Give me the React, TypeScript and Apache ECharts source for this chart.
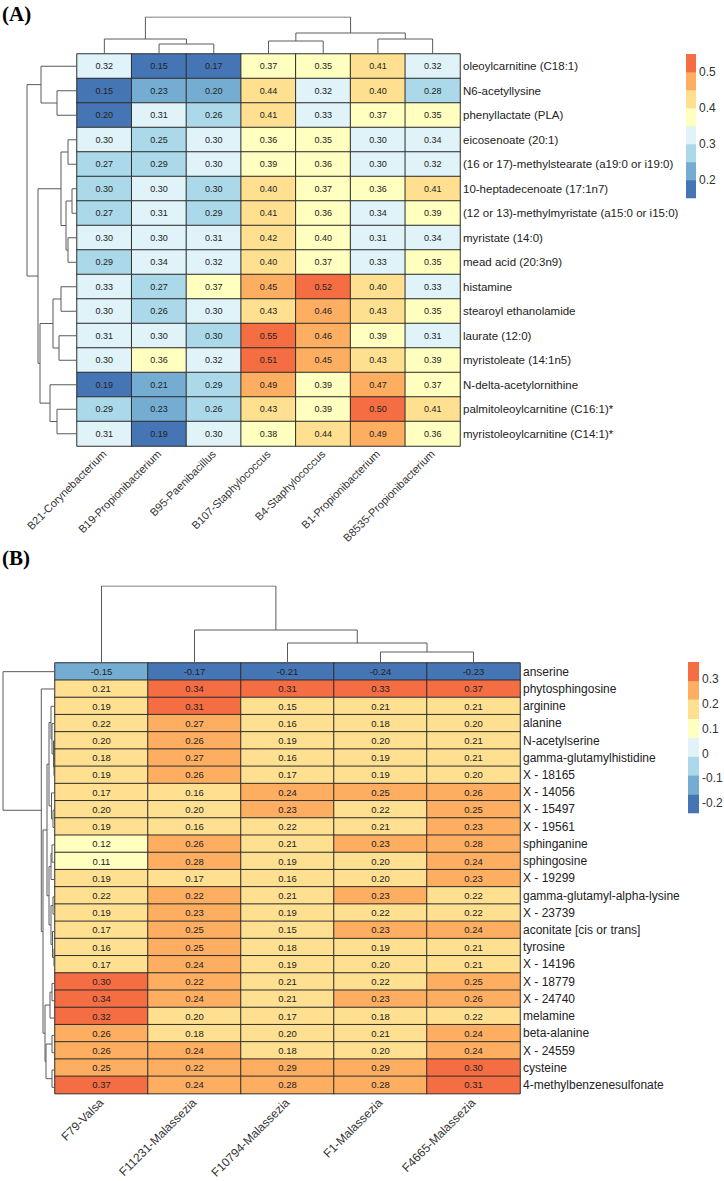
import React, { useEffect, useRef } from "react";
import * as echarts from "echarts";

// ---------- Panel A data ----------
const aCols = [
  "B21-Corynebacterium",
  "B19-Propionibacterium",
  "B95-Paenibacillus",
  "B107-Staphylococcus",
  "B4-Staphylococcus",
  "B1-Propionibacterium",
  "B8535-Propionibacterium",
];
const aRows = [
  "oleoylcarnitine (C18:1)",
  "N6-acetyllysine",
  "phenyllactate (PLA)",
  "eicosenoate (20:1)",
  "(16 or 17)-methylstearate (a19:0 or i19:0)",
  "10-heptadecenoate (17:1n7)",
  "(12 or 13)-methylmyristate (a15:0 or i15:0)",
  "myristate (14:0)",
  "mead acid (20:3n9)",
  "histamine",
  "stearoyl ethanolamide",
  "laurate (12:0)",
  "myristoleate (14:1n5)",
  "N-delta-acetylornithine",
  "palmitoleoylcarnitine (C16:1)*",
  "myristoleoylcarnitine (C14:1)*",
];
// values estimated (third decimal only where the cell colour tells on which side of a break it lies)
const aValues = [
  [0.32, 0.15, 0.17, 0.37, 0.352, 0.41, 0.32],
  [0.15, 0.23, 0.202, 0.44, 0.32, 0.402, 0.28],
  [0.198, 0.31, 0.26, 0.41, 0.33, 0.37, 0.352],
  [0.302, 0.252, 0.302, 0.36, 0.352, 0.302, 0.34],
  [0.27, 0.29, 0.302, 0.39, 0.36, 0.302, 0.32],
  [0.298, 0.302, 0.298, 0.402, 0.37, 0.36, 0.41],
  [0.27, 0.31, 0.29, 0.41, 0.36, 0.34, 0.39],
  [0.302, 0.302, 0.31, 0.42, 0.398, 0.31, 0.34],
  [0.29, 0.34, 0.32, 0.402, 0.37, 0.33, 0.352],
  [0.33, 0.27, 0.37, 0.452, 0.52, 0.402, 0.33],
  [0.302, 0.26, 0.302, 0.43, 0.46, 0.43, 0.352],
  [0.31, 0.302, 0.298, 0.55, 0.46, 0.39, 0.31],
  [0.302, 0.36, 0.32, 0.51, 0.452, 0.43, 0.39],
  [0.19, 0.21, 0.29, 0.49, 0.39, 0.47, 0.37],
  [0.29, 0.23, 0.26, 0.43, 0.39, 0.502, 0.41],
  [0.31, 0.19, 0.302, 0.38, 0.44, 0.49, 0.36],
];
const aBreaks = [0.15, 0.2, 0.25, 0.3, 0.35, 0.4, 0.45, 0.5, 0.55];
const aTicks = [0.2, 0.3, 0.4, 0.5];
// dendrograms: [childA, childB, height]; negative = leaf (-1 is first leaf), positive = earlier merge (1-based)
const aColMerges = [
  [-2, -3, 10],
  [-1, 1, 15],
  [-4, -5, 13],
  [-6, -7, 15],
  [3, 4, 21],
  [2, 5, 37],
];
const aRowMerges = [
  [-2, -3, 20],
  [-1, 1, 36],
  [-4, -5, 9],
  [-6, -7, 5],
  [-8, -9, 9],
  [4, 5, 11],
  [3, 6, 16],
  [-10, -11, 16],
  [-12, -13, 18],
  [8, 9, 24],
  [-15, -16, 20],
  [-14, 11, 27],
  [10, 12, 37],
  [7, 13, 39],
  [2, 14, 50],
];

// ---------- Panel B data ----------
const bCols = [
  "F79-Valsa",
  "F11231-Malassezia",
  "F10794-Malassezia",
  "F1-Malassezia",
  "F4665-Malassezia",
];
const bRows = [
  "anserine",
  "phytosphingosine",
  "arginine",
  "alanine",
  "N-acetylserine",
  "gamma-glutamylhistidine",
  "X - 18165",
  "X - 14056",
  "X - 15497",
  "X - 19561",
  "sphinganine",
  "sphingosine",
  "X - 19299",
  "gamma-glutamyl-alpha-lysine",
  "X - 23739",
  "aconitate [cis or trans]",
  "tyrosine",
  "X - 14196",
  "X - 18779",
  "X - 24740",
  "melamine",
  "beta-alanine",
  "X - 24559",
  "cysteine",
  "4-methylbenzenesulfonate",
];
const bValues = [
  [-0.15, -0.17, -0.21, -0.24, -0.23],
  [0.21, 0.34, 0.31, 0.33, 0.37],
  [0.19, 0.31, 0.15, 0.21, 0.21],
  [0.216, 0.27, 0.16, 0.18, 0.2],
  [0.2, 0.26, 0.19, 0.2, 0.21],
  [0.18, 0.27, 0.16, 0.19, 0.21],
  [0.19, 0.26, 0.17, 0.19, 0.2],
  [0.17, 0.16, 0.24, 0.25, 0.26],
  [0.2, 0.2, 0.23, 0.216, 0.25],
  [0.19, 0.16, 0.216, 0.21, 0.23],
  [0.12, 0.26, 0.21, 0.23, 0.28],
  [0.11, 0.28, 0.19, 0.2, 0.24],
  [0.19, 0.17, 0.16, 0.2, 0.23],
  [0.216, 0.223, 0.21, 0.23, 0.216],
  [0.19, 0.23, 0.19, 0.216, 0.216],
  [0.17, 0.25, 0.15, 0.23, 0.24],
  [0.16, 0.25, 0.18, 0.19, 0.21],
  [0.17, 0.24, 0.19, 0.2, 0.21],
  [0.3, 0.223, 0.21, 0.216, 0.25],
  [0.34, 0.24, 0.21, 0.23, 0.26],
  [0.32, 0.2, 0.17, 0.18, 0.216],
  [0.26, 0.18, 0.2, 0.21, 0.24],
  [0.26, 0.24, 0.18, 0.2, 0.24],
  [0.25, 0.223, 0.29, 0.29, 0.3],
  [0.37, 0.24, 0.28, 0.28, 0.31],
];
const bBreaks = [-0.24, -0.164, -0.087, -0.011, 0.065, 0.141, 0.219, 0.294, 0.37];
const bTicks = [-0.2, -0.1, 0, 0.1, 0.2, 0.3];
const bColMerges = [
  [-4, -5, 11],
  [-3, 1, 20],
  [-2, 2, 33],
  [-1, 3, 77],
];
const bRowMerges = [
  [-6, -7, 1],
  [-5, 1, 1.5],
  [-4, 2, 3],
  [-3, 3, 4],
  [-9, -10, 2],
  [-8, 5, 3.5],
  [4, 6, 6],
  [-11, -12, 3],
  [8, -13, 4],
  [-14, -15, 2],
  [-17, -18, 1],
  [-16, 11, 2.5],
  [10, 12, 4],
  [9, 13, 6],
  [7, 14, 8],
  [-19, -20, 3],
  [16, -21, 5],
  [-22, -23, 3],
  [-24, -25, 3],
  [18, 19, 9],
  [17, 20, 10],
  [15, 21, 12],
  [-2, 22, 13.7],
  [-1, 23, 52],
];

const palette = [
  "#4575B4",
  "#74ADD1",
  "#ABD9E9",
  "#E0F3F8",
  "#FFFFBF",
  "#FEE090",
  "#FDAE61",
  "#F46D43",
];

const FONT = "'Liberation Sans', Arial, sans-serif";
const LINE = "#5a5a5a";

function dendro(merges: number[][], orient: "col" | "row") {
  const pos: number[] = [];
  const ht: number[] = [];
  const get = (id: number) => (id < 0 ? [-id - 1, 0] : [pos[id - 1], ht[id - 1]]);
  return merges.map(([a, b, h], k) => {
    const [pa, ha] = get(a);
    const [pb, hb] = get(b);
    pos[k] = (pa + pb) / 2;
    ht[k] = h;
    const pts = [
      [pa, ha],
      [pa, h],
      [pb, h],
      [pb, hb],
    ];
    return { coords: orient === "col" ? pts : pts.map(([p, v]) => [v, p]) };
  });
}

function heatData(values: number[][]) {
  const out: number[][] = [];
  values.forEach((row, r) => row.forEach((v, c) => out.push([c, r, v])));
  return out;
}

function pieces(breaks: number[]) {
  return palette.map((color, i) =>
    i === palette.length - 1
      ? { gte: breaks[i], lte: breaks[i + 1] + 1, color }
      : { gte: breaks[i], lt: breaks[i + 1], color }
  );
}

function legend(breaks: number[], ticks: number[], x: number, top: number, w: number, h: number, labelX: number) {
  const els: any[] = [];
  const n = breaks.length - 1;
  const min = breaks[0];
  const max = breaks[n];
  const yOf = (v: number) => top + ((max - v) / (max - min)) * h;
  for (let i = 0; i < n; i++) {
    const y1 = yOf(breaks[i + 1]);
    const y2 = yOf(breaks[i]);
    els.push({
      type: "rect",
      shape: { x, y: y1, width: w, height: y2 - y1 + 0.3 },
      style: { fill: palette[i] },
      silent: true,
    });
  }
  ticks.forEach((t) => {
    els.push({
      type: "text",
      x: labelX,
      y: yOf(t),
      style: {
        text: String(t),
        fill: "#333",
        fontSize: 12,
        fontFamily: FONT,
        verticalAlign: "middle",
        align: "left",
      },
      silent: true,
    });
  });
  return els;
}

export default function App() {
  const ref = useRef<HTMLDivElement>(null);
  useEffect(() => {
    if (!ref.current) return;
    const chart = echarts.init(ref.current, null, { renderer: "svg" });
    const hidden = { show: false };
    const cellLabel = (size: number) => ({
      show: true,
      fontSize: size,
      fontFamily: FONT,
      color: "#222",
      formatter: (p: any) => p.value[2].toFixed(2),
    });
    const dendroLine = { color: LINE, width: 1, opacity: 1 };
    const option: any = {
      animation: false,
      backgroundColor: "#fff",
      grid: [
        { left: 77, top: 54, width: 383, height: 392 },
        { left: 77, top: 17, width: 383, height: 37 },
        { left: 27, top: 54, width: 50, height: 392 },
        { left: 55, top: 663, width: 465, height: 433 },
        { left: 55, top: 586, width: 465, height: 77 },
        { left: 3, top: 663, width: 52, height: 433 },
      ],
      xAxis: [
        {
          type: "category",
          gridIndex: 0,
          data: aCols,
          position: "bottom",
          axisLine: { show: false },
          axisTick: { show: false },
          splitLine: { show: false },
          axisLabel: { rotate: 45, margin: 6, fontSize: 11, fontFamily: FONT, color: "#333", interval: 0 },
        },
        { type: "value", gridIndex: 1, min: -0.5, max: aCols.length - 0.5, ...hidden },
        { type: "value", gridIndex: 2, min: 0, max: 50, inverse: true, ...hidden },
        {
          type: "category",
          gridIndex: 3,
          data: bCols,
          position: "bottom",
          axisLine: { show: false },
          axisTick: { show: false },
          splitLine: { show: false },
          axisLabel: { rotate: 45, margin: 7, fontSize: 12, fontFamily: FONT, color: "#333", interval: 0 },
        },
        { type: "value", gridIndex: 4, min: -0.5, max: bCols.length - 0.5, ...hidden },
        { type: "value", gridIndex: 5, min: 0, max: 52, inverse: true, ...hidden },
      ],
      yAxis: [
        {
          type: "category",
          gridIndex: 0,
          data: aRows,
          inverse: true,
          position: "right",
          axisLine: { show: false },
          axisTick: { show: false },
          splitLine: { show: false },
          axisLabel: { margin: 3, fontSize: 11.5, fontFamily: FONT, color: "#222", interval: 0 },
        },
        { type: "value", gridIndex: 1, min: 0, max: 37, ...hidden },
        { type: "value", gridIndex: 2, min: -0.5, max: aRows.length - 0.5, inverse: true, ...hidden },
        {
          type: "category",
          gridIndex: 3,
          data: bRows,
          inverse: true,
          position: "right",
          axisLine: { show: false },
          axisTick: { show: false },
          splitLine: { show: false },
          axisLabel: { margin: 3, fontSize: 12, fontFamily: FONT, color: "#222", interval: 0 },
        },
        { type: "value", gridIndex: 4, min: 0, max: 77, ...hidden },
        { type: "value", gridIndex: 5, min: -0.5, max: bRows.length - 0.5, inverse: true, ...hidden },
      ],
      visualMap: [
        { type: "piecewise", show: false, seriesIndex: 0, dimension: 2, pieces: pieces(aBreaks) },
        { type: "piecewise", show: false, seriesIndex: 3, dimension: 2, pieces: pieces(bBreaks) },
      ],
      series: [
        {
          type: "heatmap",
          xAxisIndex: 0,
          yAxisIndex: 0,
          data: heatData(aValues),
          itemStyle: { borderColor: "#2e2e2e", borderWidth: 1 },
          label: cellLabel(9),
          emphasis: { disabled: true },
        },
        {
          type: "lines",
          coordinateSystem: "cartesian2d",
          xAxisIndex: 1,
          yAxisIndex: 1,
          polyline: true,
          silent: true,
          lineStyle: dendroLine,
          data: dendro(aColMerges, "col"),
        },
        {
          type: "lines",
          coordinateSystem: "cartesian2d",
          xAxisIndex: 2,
          yAxisIndex: 2,
          polyline: true,
          silent: true,
          lineStyle: dendroLine,
          data: dendro(aRowMerges, "row"),
        },
        {
          type: "heatmap",
          xAxisIndex: 3,
          yAxisIndex: 3,
          data: heatData(bValues),
          itemStyle: { borderColor: "#2e2e2e", borderWidth: 1 },
          label: cellLabel(9.5),
          emphasis: { disabled: true },
        },
        {
          type: "lines",
          coordinateSystem: "cartesian2d",
          xAxisIndex: 4,
          yAxisIndex: 4,
          polyline: true,
          silent: true,
          lineStyle: dendroLine,
          data: dendro(bColMerges, "col"),
        },
        {
          type: "lines",
          coordinateSystem: "cartesian2d",
          xAxisIndex: 5,
          yAxisIndex: 5,
          polyline: true,
          silent: true,
          lineStyle: dendroLine,
          data: dendro(bRowMerges, "row"),
        },
      ],
      graphic: [
        {
          type: "text",
          left: 2,
          top: 3,
          style: { text: "(A)", fontSize: 21, fontWeight: "bold", fontFamily: "'Liberation Serif', 'Times New Roman', serif", fill: "#000" },
        },
        {
          type: "text",
          left: 2,
          top: 547,
          style: { text: "(B)", fontSize: 21, fontWeight: "bold", fontFamily: "'Liberation Serif', 'Times New Roman', serif", fill: "#000" },
        },
        ...legend(aBreaks, aTicks, 686, 54, 10, 144, 699),
        ...legend(bBreaks, bTicks, 688, 662, 11, 151, 702),
      ],
    };
    chart.setOption(option);
    return () => chart.dispose();
  }, []);
  return (
    <div
      ref={ref}
      style={{ position: "absolute", left: 0, top: 0, width: 724, height: 1181, background: "#fff" }}
    />
  );
}
